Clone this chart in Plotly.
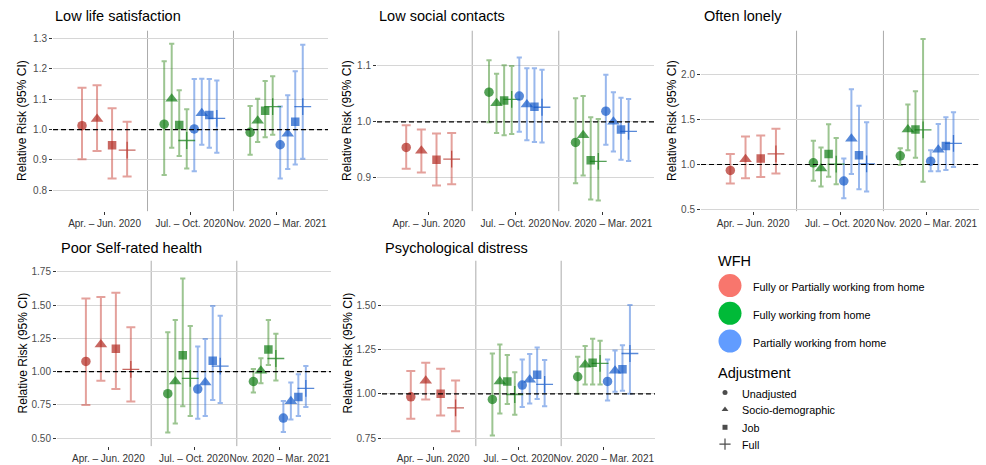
import plotly.graph_objects as go

W, H = 986, 465
FONT = "Liberation Sans, Arial, Helvetica, sans-serif"

periods = ["Apr. – Jun. 2020", "Jul. – Oct. 2020", "Nov. 2020 – Mar. 2021"]
adjustments = ["Unadjusted", "Socio-demographic", "Job", "Full"]
wfh_groups = ["Fully or Partially working from home", "Fully working from home", "Partially working from home"]
outcomes = ["Low life satisfaction", "Low social contacts", "Often lonely",
            "Poor Self-rated health", "Psychological distress"]

# ---- data: red = period 1 (4 adjustments); green / blue = periods 2 and 3 (4 adjustments each) ----
life_red_rr = [1.013, 1.035, 0.948, 0.932]
life_red_lo = [0.902, 0.929, 0.839, 0.845]
life_red_hi = [1.138, 1.146, 1.070, 1.026]
life_green_rr = [1.018, 1.102, 1.015, 0.964, 0.991, 1.029, 1.062, 1.076]
life_green_lo = [0.850, 0.940, 0.913, 0.872, 0.917, 0.959, 0.975, 0.983]
life_green_hi = [1.225, 1.283, 1.130, 1.067, 1.078, 1.102, 1.160, 1.176]
life_blue_rr = [1.002, 1.054, 1.048, 1.037, 0.950, 0.986, 1.026, 1.076]
life_blue_lo = [0.863, 0.950, 0.940, 0.924, 0.839, 0.870, 0.885, 0.904]
life_blue_hi = [1.167, 1.168, 1.167, 1.162, 1.076, 1.113, 1.192, 1.280]

social_red_rr = [0.954, 0.948, 0.932, 0.933]
social_red_lo = [0.916, 0.909, 0.886, 0.888]
social_red_hi = [0.994, 0.986, 0.979, 0.980]
social_green_rr = [1.053, 1.033, 1.038, 1.040, 0.963, 0.976, 0.931, 0.929]
social_green_lo = [0.999, 0.980, 0.976, 0.978, 0.890, 0.904, 0.861, 0.859]
social_green_hi = [1.110, 1.086, 1.101, 1.100, 1.042, 1.046, 1.008, 1.005]
social_blue_rr = [1.046, 1.031, 1.027, 1.026, 1.019, 1.000, 0.986, 0.983]
social_blue_lo = [0.982, 0.967, 0.964, 0.963, 0.959, 0.947, 0.932, 0.930]
social_blue_hi = [1.115, 1.096, 1.096, 1.093, 1.084, 1.053, 1.043, 1.041]

lonely_red_rr = [0.934, 1.059, 1.066, 1.118]
lonely_red_lo = [0.787, 0.846, 0.860, 0.900]
lonely_red_hi = [1.118, 1.313, 1.324, 1.397]
lonely_green_rr = [1.018, 0.956, 1.118, 1.004, 1.096, 1.390, 1.390, 1.386]
lonely_green_lo = [0.820, 0.754, 0.864, 0.780, 0.993, 1.158, 1.074, 0.809]
lonely_green_hi = [1.265, 1.190, 1.449, 1.294, 1.180, 1.669, 1.816, 2.397]
lonely_blue_rr = [0.816, 1.287, 1.103, 1.007, 1.037, 1.165, 1.206, 1.235]
lonely_blue_lo = [0.625, 0.893, 0.724, 0.699, 0.926, 0.926, 0.938, 0.971]
lonely_blue_hi = [1.066, 1.838, 1.654, 1.471, 1.158, 1.452, 1.526, 1.581]

health_red_rr = [1.077, 1.205, 1.173, 1.017]
health_red_lo = [0.750, 0.931, 0.869, 0.775]
health_red_hi = [1.550, 1.562, 1.594, 1.334]
health_green_rr = [0.834, 0.926, 1.124, 0.950, 0.926, 1.007, 1.166, 1.099]
health_green_lo = [0.542, 0.611, 0.740, 0.666, 0.844, 0.913, 1.050, 0.933]
health_green_hi = [1.297, 1.389, 1.700, 1.344, 1.020, 1.101, 1.389, 1.285]
health_blue_rr = [0.869, 0.918, 1.082, 1.042, 0.651, 0.777, 0.809, 0.874]
health_blue_lo = [0.646, 0.666, 0.787, 0.765, 0.547, 0.641, 0.666, 0.735]
health_blue_hi = [1.190, 1.245, 1.493, 1.421, 0.780, 0.918, 0.980, 1.042]

distress_red_rr = [0.983, 1.073, 1.000, 0.921]
distress_red_lo = [0.859, 0.968, 0.878, 0.789]
distress_red_hi = [1.128, 1.175, 1.141, 1.075]
distress_green_rr = [0.968, 1.070, 1.070, 0.996, 1.096, 1.164, 1.175, 1.171]
distress_green_lo = [0.765, 0.889, 0.942, 0.882, 1.000, 1.053, 1.053, 1.053]
distress_green_hi = [1.227, 1.278, 1.218, 1.122, 1.209, 1.269, 1.310, 1.299]
distress_blue_rr = [1.049, 1.079, 1.107, 1.053, 1.070, 1.130, 1.139, 1.227]
distress_blue_lo = [0.925, 0.945, 0.970, 0.930, 0.962, 1.011, 1.017, 1.000]
distress_blue_hi = [1.194, 1.224, 1.261, 1.190, 1.194, 1.244, 1.274, 1.500]

y_ticks = [
    [0.8, 0.9, 1.0, 1.1, 1.2, 1.3],
    [0.9, 1.0, 1.1],
    [0.5, 1.0, 1.5, 2.0],
    [0.50, 0.75, 1.00, 1.25, 1.50, 1.75],
    [0.75, 1.00, 1.25, 1.50],
]
y_ranges = [[0.731, 1.326], [0.84, 1.163], [0.48, 2.49], [0.44, 1.834], [0.705, 1.75]]
y_fmt = [".1f", ".1f", ".1f", ".2f", ".2f"]

panel_data = [
    (life_red_rr, life_red_lo, life_red_hi, life_green_rr, life_green_lo, life_green_hi, life_blue_rr, life_blue_lo, life_blue_hi),
    (social_red_rr, social_red_lo, social_red_hi, social_green_rr, social_green_lo, social_green_hi, social_blue_rr, social_blue_lo, social_blue_hi),
    (lonely_red_rr, lonely_red_lo, lonely_red_hi, lonely_green_rr, lonely_green_lo, lonely_green_hi, lonely_blue_rr, lonely_blue_lo, lonely_blue_hi),
    (health_red_rr, health_red_lo, health_red_hi, health_green_rr, health_green_lo, health_green_hi, health_blue_rr, health_blue_lo, health_blue_hi),
    (distress_red_rr, distress_red_lo, distress_red_hi, distress_green_rr, distress_green_lo, distress_green_hi, distress_blue_rr, distress_blue_lo, distress_blue_hi),
]

# ---- styling ----
key_colors = ["#F8766D", "#00BA38", "#619CFF"]
point_colors = ["#B0281F", "#0E7A12", "#1358C8"]
bar_colors = ["rgba(206,84,74,0.55)", "rgba(58,140,36,0.5)", "rgba(52,114,220,0.5)"]
symbols = ["circle", "triangle-up", "square", "cross-thin"]
sizes = [9.5, 11, 8.5, 12]
line_w = [0, 0, 0, 1.3]

# panel pixel boxes (left, right, top, bottom)
boxes = [(53, 328, 31, 213), (377, 654, 31, 213), (701, 979, 31, 213),
         (57, 331, 263, 450), (382, 655, 263, 450)]
title_pos = [(53, 16), (377, 16), (702, 16), (59, 250), (383, 250)]
ylab_x = [22, 347, 672, 23, 348]

DODGE = 0.7

fig = go.Figure()
layout = dict(
    width=W, height=H, margin=dict(l=0, r=0, t=0, b=0),
    paper_bgcolor="white", plot_bgcolor="rgba(0,0,0,0)", showlegend=False,
    font=dict(family=FONT, color="#000000"),
)
shapes = []
annotations = []

for k in range(5):
    ax = "" if k == 0 else str(k + 1)
    xa, ya = "x" + ax, "y" + ax
    l, r, t, b = boxes[k]
    layout["xaxis" + ax] = dict(
        domain=[l / W, r / W], anchor=ya, range=[0.4, 3.6],
        tickmode="array", tickvals=[1, 2, 3], ticktext=periods, tickangle=0,
        showgrid=False, zeroline=False, showline=False,
        ticks="outside", ticklen=3, tickcolor="#333333", tickwidth=1,
        tickfont=dict(size=10, color="#333333", family=FONT),
    )
    layout["yaxis" + ax] = dict(
        domain=[1 - b / H, 1 - t / H], anchor=xa, range=y_ranges[k],
        tickmode="array", tickvals=y_ticks[k], tickformat=y_fmt[k],
        showgrid=True, gridcolor="#D6D6D6", gridwidth=1,
        zeroline=False, showline=False,
        ticks="outside", ticklen=3, tickcolor="#333333", tickwidth=1,
        tickfont=dict(size=10, color="#4D4D4D", family=FONT),
    )
    # period separators
    for sx in (1.5, 2.5):
        shapes.append(dict(type="line", xref=xa, yref=ya + " domain", x0=sx, x1=sx, y0=0, y1=1,
                           line=dict(color="#ABABAB", width=1), layer="below"))
    # reference line RR = 1
    shapes.append(dict(type="line", xref=xa + " domain", yref=ya, x0=0, x1=1, y0=1, y1=1,
                       line=dict(color="#000000", width=1.2, dash="5px,3px"), layer="above"))
    annotations.append(dict(text=outcomes[k], x=title_pos[k][0] / W, y=1 - title_pos[k][1] / H,
                            xref="paper", yref="paper", xanchor="left", yanchor="middle",
                            showarrow=False, font=dict(size=14.5, color="#000000", family=FONT)))
    annotations.append(dict(text="Relative Risk (95% CI)", x=ylab_x[k] / W, y=1 - ((t + b) / 2) / H,
                            xref="paper", yref="paper", xanchor="center", yanchor="middle",
                            textangle=-90, showarrow=False,
                            font=dict(size=12, color="#000000", family=FONT)))

    d = panel_data[k]
    groups = [
        (0, d[0], d[1], d[2], [1] * 4, list(range(4)), 4, 4.5),
        (1, d[3], d[4], d[5], [2] * 4 + [3] * 4, [0, 1, 2, 3] * 2, 8, 2.6),
        (2, d[6], d[7], d[8], [2] * 4 + [3] * 4, [4, 5, 6, 7] * 2, 8, 2.6),
    ]
    err_traces, pt_traces = [], []
    for g, rr, lo, hi, per, slot, n, capw in groups:
        step = DODGE / n
        xs = [p + (s - (n - 1) / 2) * step for p, s in zip(per, slot)]
        adj = [i % 4 for i in range(len(rr))]
        err_traces.append(go.Scatter(
            x=xs, y=rr, xaxis=xa, yaxis=ya, mode="markers",
            marker=dict(size=0.1, color="rgba(0,0,0,0)"),
            error_y=dict(type="data", symmetric=False,
                         array=[h - v for h, v in zip(hi, rr)],
                         arrayminus=[v - q for v, q in zip(rr, lo)],
                         color=bar_colors[g], thickness=2, width=capw),
            hoverinfo="skip"))
        pt_traces.append(go.Scatter(
            x=xs, y=rr, xaxis=xa, yaxis=ya, mode="markers",
            marker=dict(symbol=[symbols[a] for a in adj], size=[sizes[a] for a in adj],
                        color=point_colors[g],
                        line=dict(color=point_colors[g], width=[line_w[a] for a in adj])),
            name=wfh_groups[g]))
    for tr in err_traces + pt_traces:
        fig.add_trace(tr)

# ---- legend (drawn on an invisible pixel-space axis in the empty sixth cell) ----
LX0, LY0 = 700, 245
layout["xaxis6"] = dict(domain=[LX0 / W, 1], range=[LX0, W], visible=False, anchor="y6", fixedrange=True)
layout["yaxis6"] = dict(domain=[0, 1 - LY0 / H], range=[H, LY0], visible=False, anchor="x6", fixedrange=True)
key_y = [288, 316, 344]
fig.add_trace(go.Scatter(x=[730] * 3, y=key_y, xaxis="x6", yaxis="y6", mode="markers",
                         marker=dict(size=23, color=key_colors, line=dict(width=0)), hoverinfo="skip"))
adj_y = [396, 413, 431, 448]
fig.add_trace(go.Scatter(x=[725] * 4, y=adj_y, xaxis="x6", yaxis="y6", mode="markers",
                         marker=dict(symbol=symbols, size=[5, 6, 5, 8], color="#000000",
                                     line=dict(color="#000000", width=[0, 0, 0, 1.2])),
                         hoverinfo="skip"))
annotations.append(dict(text="WFH", x=716 / W, y=1 - 263 / H, xref="paper", yref="paper",
                        xanchor="left", yanchor="middle", showarrow=False,
                        font=dict(size=14.5, color="#000000", family=FONT)))
annotations.append(dict(text="Adjustment", x=716 / W, y=1 - 376 / H, xref="paper", yref="paper",
                        xanchor="left", yanchor="middle", showarrow=False,
                        font=dict(size=14.5, color="#000000", family=FONT)))
for name, yy in zip(wfh_groups, key_y):
    annotations.append(dict(text=name, x=751 / W, y=1 - (yy + 1.5) / H, xref="paper", yref="paper",
                            xanchor="left", yanchor="middle", showarrow=False,
                            font=dict(size=10.8, color="#000000", family=FONT)))
for name, yy in zip(adjustments, adj_y):
    annotations.append(dict(text=name, x=740 / W, y=1 - (yy + 1) / H, xref="paper", yref="paper",
                            xanchor="left", yanchor="middle", showarrow=False,
                            font=dict(size=10.8, color="#000000", family=FONT)))

layout["shapes"] = shapes
layout["annotations"] = annotations
fig.update_layout(**layout)
fig.write_html("out.html")
